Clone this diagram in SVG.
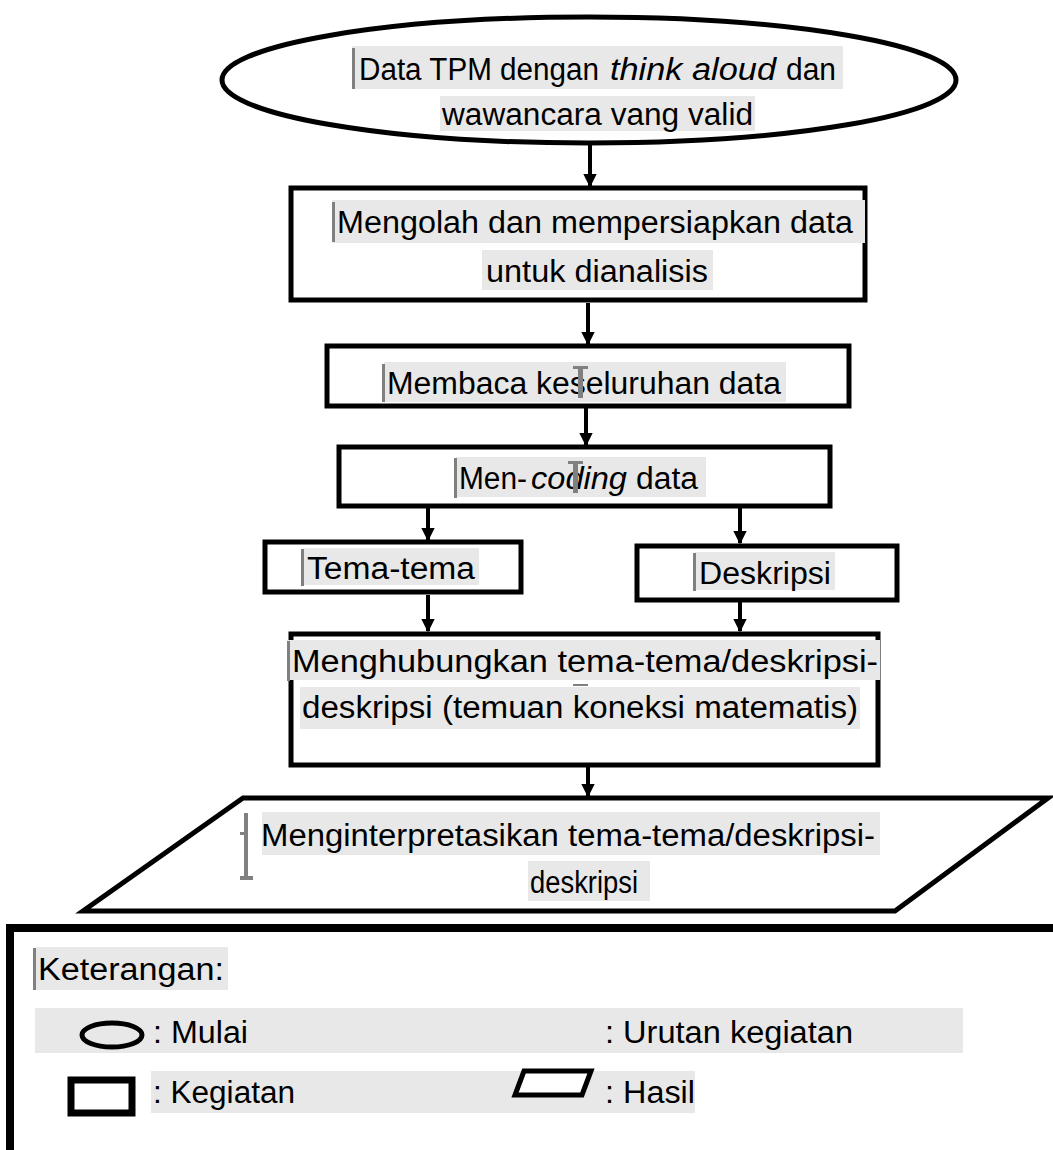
<svg xmlns="http://www.w3.org/2000/svg" width="1053" height="1150" viewBox="0 0 1053 1150">
  <style>
    .shape { fill: #ffffff; stroke: #000000; stroke-width: 5; }
    .hl { fill: #e8e8e8; }
    .caret { fill: #808080; }
    .lbl { font-family: "Liberation Sans", Arial, sans-serif; font-size: 31px; fill: #000000; }
    .it { font-style: italic; }
    .conn { stroke: #000000; stroke-width: 4; fill: none; marker-end: url(#head); }
  </style>
  <defs>
    <marker id="head" viewBox="0 0 10 10" refX="9" refY="5" markerWidth="3.4" markerHeight="3.4" orient="auto" markerUnits="strokeWidth">
      <path d="M0,0 L10,5 L0,10 Z" fill="#000000"/>
    </marker>
  </defs>
  <rect width="1053" height="1150" fill="#ffffff"/>

  <!-- connectors -->
  <g id="connectors">
    <line class="conn" x1="590" y1="145" x2="590" y2="186"/>
    <line class="conn" x1="588" y1="303" x2="588" y2="344"/>
    <line class="conn" x1="586" y1="408" x2="586" y2="445"/>
    <line class="conn" x1="428" y1="508" x2="428" y2="540"/>
    <line class="conn" x1="740" y1="508" x2="740" y2="543"/>
    <line class="conn" x1="428" y1="595" x2="428" y2="631"/>
    <line class="conn" x1="740" y1="602" x2="740" y2="631"/>
    <line class="conn" x1="588" y1="767" x2="588" y2="796"/>
  </g>

  <!-- start: data -->
  <g id="node-start">
    <ellipse class="shape" cx="589" cy="80" rx="367" ry="63"/>
    <rect class="hl" x="352" y="46" width="491" height="43"/>
    <rect class="caret" x="352" y="48" width="3" height="41"/>
    <text class="lbl" x="359" y="80" textLength="240" lengthAdjust="spacingAndGlyphs">Data TPM dengan</text>
    <text class="lbl it" x="610" y="80" textLength="166" lengthAdjust="spacingAndGlyphs">think aloud</text>
    <text class="lbl" x="786" y="80" textLength="50" lengthAdjust="spacingAndGlyphs">dan</text>
    <rect class="hl" x="440" y="96" width="315" height="35"/>
    <text class="lbl" x="442" y="125" textLength="311" lengthAdjust="spacingAndGlyphs">wawancara vang valid</text>
  </g>

  <!-- step: prepare data -->
  <g id="node-prepare">
    <rect class="shape" x="291" y="188" width="574" height="112"/>
    <rect class="hl" x="332" y="200" width="533" height="43"/>
    <rect class="caret" x="332" y="202" width="3" height="40"/>
    <text class="lbl" x="337" y="233" textLength="516" lengthAdjust="spacingAndGlyphs">Mengolah dan mempersiapkan data</text>
    <rect class="hl" x="482" y="250" width="231" height="40"/>
    <text class="lbl" x="486" y="282" textLength="222" lengthAdjust="spacingAndGlyphs">untuk dianalisis</text>
  </g>

  <!-- step: read data -->
  <g id="node-read">
    <rect class="shape" x="327" y="346" width="522" height="60"/>
    <rect class="hl" x="384" y="362" width="402" height="40"/>
    <rect class="caret" x="382" y="364" width="3" height="38"/>
    <text class="lbl" x="387" y="394" textLength="394" lengthAdjust="spacingAndGlyphs">Membaca keseluruhan data</text>
    <rect class="caret" x="578" y="366" width="5" height="32"/>
    <rect class="caret" x="573" y="366" width="15" height="3"/>
  </g>

  <!-- step: coding -->
  <g id="node-coding">
    <rect class="shape" x="339" y="447" width="491" height="59"/>
    <rect class="hl" x="456" y="457" width="250" height="40"/>
    <rect class="caret" x="454" y="458" width="3" height="40"/>
    <text class="lbl" x="459" y="489" textLength="68" lengthAdjust="spacingAndGlyphs">Men-</text>
    <text class="lbl it" x="531" y="489" textLength="96" lengthAdjust="spacingAndGlyphs">coding</text>
    <text class="lbl" x="636" y="489" textLength="62" lengthAdjust="spacingAndGlyphs">data</text>
    <rect class="caret" x="573" y="461" width="5" height="32"/>
    <rect class="caret" x="568" y="461" width="15" height="3"/>
  </g>

  <!-- themes -->
  <g id="node-themes">
    <rect class="shape" x="265" y="542" width="256" height="50"/>
    <rect class="hl" x="303" y="548" width="176" height="37"/>
    <rect class="caret" x="301" y="549" width="3" height="37"/>
    <text class="lbl" x="307" y="579" textLength="168" lengthAdjust="spacingAndGlyphs">Tema-tema</text>
  </g>

  <!-- descriptions -->
  <g id="node-desc">
    <rect class="shape" x="637" y="546" width="260" height="54"/>
    <rect class="hl" x="695" y="552" width="140" height="38"/>
    <rect class="caret" x="693" y="553" width="3" height="38"/>
    <text class="lbl" x="699" y="584" textLength="132" lengthAdjust="spacingAndGlyphs">Deskripsi</text>
  </g>

  <!-- step: connect themes -->
  <g id="node-connect">
    <rect class="shape" x="291" y="634" width="587" height="131"/>
    <rect class="hl" x="287" y="640" width="593" height="40"/>
    <rect class="caret" x="287" y="641" width="3" height="40"/>
    <text class="lbl" x="292" y="672" textLength="586" lengthAdjust="spacingAndGlyphs">Menghubungkan tema-tema/deskripsi-</text>
    <rect class="hl" x="300" y="687" width="560" height="42"/>
    <text class="lbl" x="302" y="718" textLength="556" lengthAdjust="spacingAndGlyphs">deskripsi (temuan koneksi matematis)</text>
    <rect class="caret" x="573" y="684" width="15" height="2"/>
  </g>

  <!-- result: interpretation -->
  <g id="node-result">
    <polygon class="shape" points="243,798 1048,798 895,911 83,911"/>
    <rect class="hl" x="262" y="812" width="618" height="43"/>
    <rect class="caret" x="244" y="813" width="4" height="66"/>
    <rect class="caret" x="240" y="832" width="6" height="3"/>
    <rect class="caret" x="240" y="876" width="13" height="4"/>
    <text class="lbl" x="261" y="846" textLength="614" lengthAdjust="spacingAndGlyphs">Menginterpretasikan tema-tema/deskripsi-</text>
    <rect class="hl" x="528" y="861" width="122" height="40"/>
    <text class="lbl" x="530" y="893" textLength="108" lengthAdjust="spacingAndGlyphs">deskripsi</text>
  </g>

  <!-- legend -->
  <g id="legend">
    <rect x="10" y="928" width="1100" height="260" fill="none" stroke="#000000" stroke-width="8"/>
    <rect class="hl" x="36" y="947" width="192" height="43"/>
    <rect class="caret" x="33" y="948" width="3" height="42"/>
    <text class="lbl" x="38" y="980" textLength="186" lengthAdjust="spacingAndGlyphs">Keterangan:</text>

    <rect class="hl" x="35" y="1008" width="928" height="45"/>
    <ellipse cx="112" cy="1035" rx="30" ry="12" fill="none" stroke="#000000" stroke-width="5"/>
    <text class="lbl" x="153" y="1043" textLength="95" lengthAdjust="spacingAndGlyphs">: Mulai</text>
    <text class="lbl" x="605" y="1043" textLength="248" lengthAdjust="spacingAndGlyphs">: Urutan kegiatan</text>

    <rect class="hl" x="151" y="1071" width="544" height="42"/>
    <rect x="71" y="1080" width="61" height="33" fill="#ffffff" stroke="#000000" stroke-width="7"/>
    <text class="lbl" x="153" y="1103" textLength="142" lengthAdjust="spacingAndGlyphs">: Kegiatan</text>
    <polygon points="524,1071 591,1071 582,1095 515,1095" fill="#ffffff" stroke="#000000" stroke-width="5"/>
    <text class="lbl" x="605" y="1103" textLength="90" lengthAdjust="spacingAndGlyphs">: Hasil</text>
  </g>
</svg>
